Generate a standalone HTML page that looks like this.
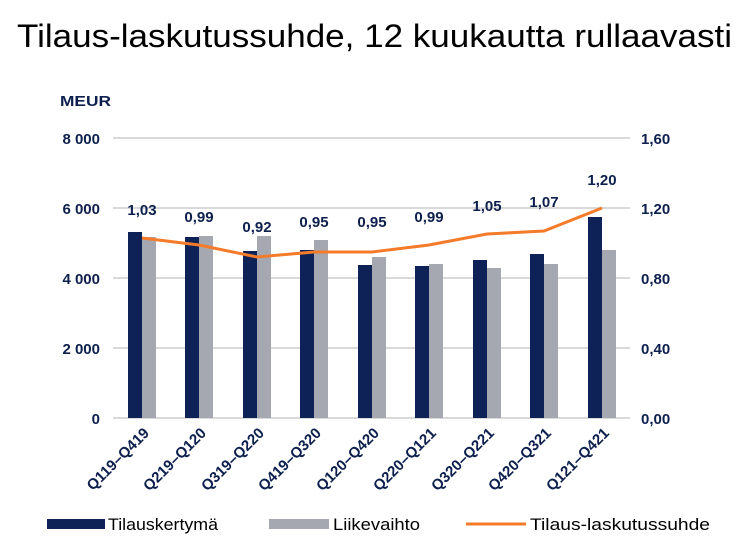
<!DOCTYPE html>
<html><head><meta charset="utf-8"><style>
html,body{margin:0;padding:0;background:#fff;}
svg{display:block;font-family:"Liberation Sans",Arial,sans-serif;}
</style></head><body>
<svg width="746" height="552" viewBox="0 0 746 552" xmlns="http://www.w3.org/2000/svg">
<text x="17" y="47" font-size="32" fill="#000" textLength="715" lengthAdjust="spacingAndGlyphs">Tilaus-laskutussuhde, 12 kuukautta rullaavasti</text>
<text x="60" y="106" font-size="15" font-weight="bold" fill="#0d1f4d" textLength="51" lengthAdjust="spacingAndGlyphs">MEUR</text>
<g stroke="#d9d9d9" stroke-width="2">
<line x1="113" y1="138" x2="630" y2="138"/>
<line x1="113" y1="208" x2="630" y2="208"/>
<line x1="113" y1="278" x2="630" y2="278"/>
<line x1="113" y1="348" x2="630" y2="348"/>
<line x1="113" y1="418" x2="630" y2="418"/>
</g>
<g font-size="15" font-weight="bold" fill="#0d1f4d" text-anchor="end">
<text x="100" y="144">8 000</text>
<text x="100" y="214">6 000</text>
<text x="100" y="284">4 000</text>
<text x="100" y="354">2 000</text>
<text x="100" y="424">0</text>
</g>
<g font-size="15" font-weight="bold" fill="#0d1f4d">
<text x="641" y="144">1,60</text>
<text x="641" y="214">1,20</text>
<text x="641" y="284">0,80</text>
<text x="641" y="354">0,40</text>
<text x="641" y="424">0,00</text>
</g>
<g fill="#0e2257">
<rect x="128" y="232" width="14" height="186"/>
<rect x="185" y="237" width="14" height="181"/>
<rect x="243" y="251" width="14" height="167"/>
<rect x="300" y="250" width="14" height="168"/>
<rect x="358" y="265" width="14" height="153"/>
<rect x="415" y="266" width="14" height="152"/>
<rect x="473" y="260" width="14" height="158"/>
<rect x="530" y="254" width="14" height="164"/>
<rect x="588" y="217" width="14" height="201"/>
</g>
<g fill="#a5a8b0">
<rect x="142" y="237" width="14" height="181"/>
<rect x="199" y="236" width="14" height="182"/>
<rect x="257" y="236" width="14" height="182"/>
<rect x="314" y="240" width="14" height="178"/>
<rect x="372" y="257" width="14" height="161"/>
<rect x="429" y="264" width="14" height="154"/>
<rect x="487" y="268" width="14" height="150"/>
<rect x="544" y="264" width="14" height="154"/>
<rect x="602" y="250" width="14" height="168"/>
</g>
<polyline fill="none" stroke="#f47b2a" stroke-width="3" points="142,238 199,245 257,257 314,252 372,252 429,245 487,234 544,231 602,208"/>
<g font-size="15" font-weight="bold" fill="#0d1f4d" text-anchor="middle">
<text x="142" y="215">1,03</text>
<text x="199" y="222">0,99</text>
<text x="257" y="232">0,92</text>
<text x="314" y="227">0,95</text>
<text x="372" y="227">0,95</text>
<text x="429" y="222">0,99</text>
<text x="487" y="211">1,05</text>
<text x="544" y="207">1,07</text>
<text x="602" y="185">1,20</text>
</g>
<g font-size="15" font-weight="bold" fill="#0d1f4d" text-anchor="end">
<text transform="translate(150,434) rotate(-45)">Q119–Q419</text>
<text transform="translate(207,434) rotate(-45)">Q219–Q120</text>
<text transform="translate(265,434) rotate(-45)">Q319–Q220</text>
<text transform="translate(322,434) rotate(-45)">Q419–Q320</text>
<text transform="translate(380,434) rotate(-45)">Q120–Q420</text>
<text transform="translate(437,434) rotate(-45)">Q220–Q121</text>
<text transform="translate(495,434) rotate(-45)">Q320–Q221</text>
<text transform="translate(552,434) rotate(-45)">Q420–Q321</text>
<text transform="translate(610,434) rotate(-45)">Q121–Q421</text>
</g>
<rect x="47" y="519" width="58" height="10" fill="#0e2257"/>
<text x="108" y="530" font-size="17" fill="#000" textLength="110" lengthAdjust="spacingAndGlyphs">Tilauskertymä</text>
<rect x="269" y="519" width="60" height="10" fill="#a5a8b0"/>
<text x="333" y="530" font-size="17" fill="#000" textLength="87" lengthAdjust="spacingAndGlyphs">Liikevaihto</text>
<line x1="466" y1="524" x2="526" y2="524" stroke="#f47b2a" stroke-width="3"/>
<text x="530" y="530" font-size="17" fill="#000" textLength="180" lengthAdjust="spacingAndGlyphs">Tilaus-laskutussuhde</text>
</svg>
</body></html>
